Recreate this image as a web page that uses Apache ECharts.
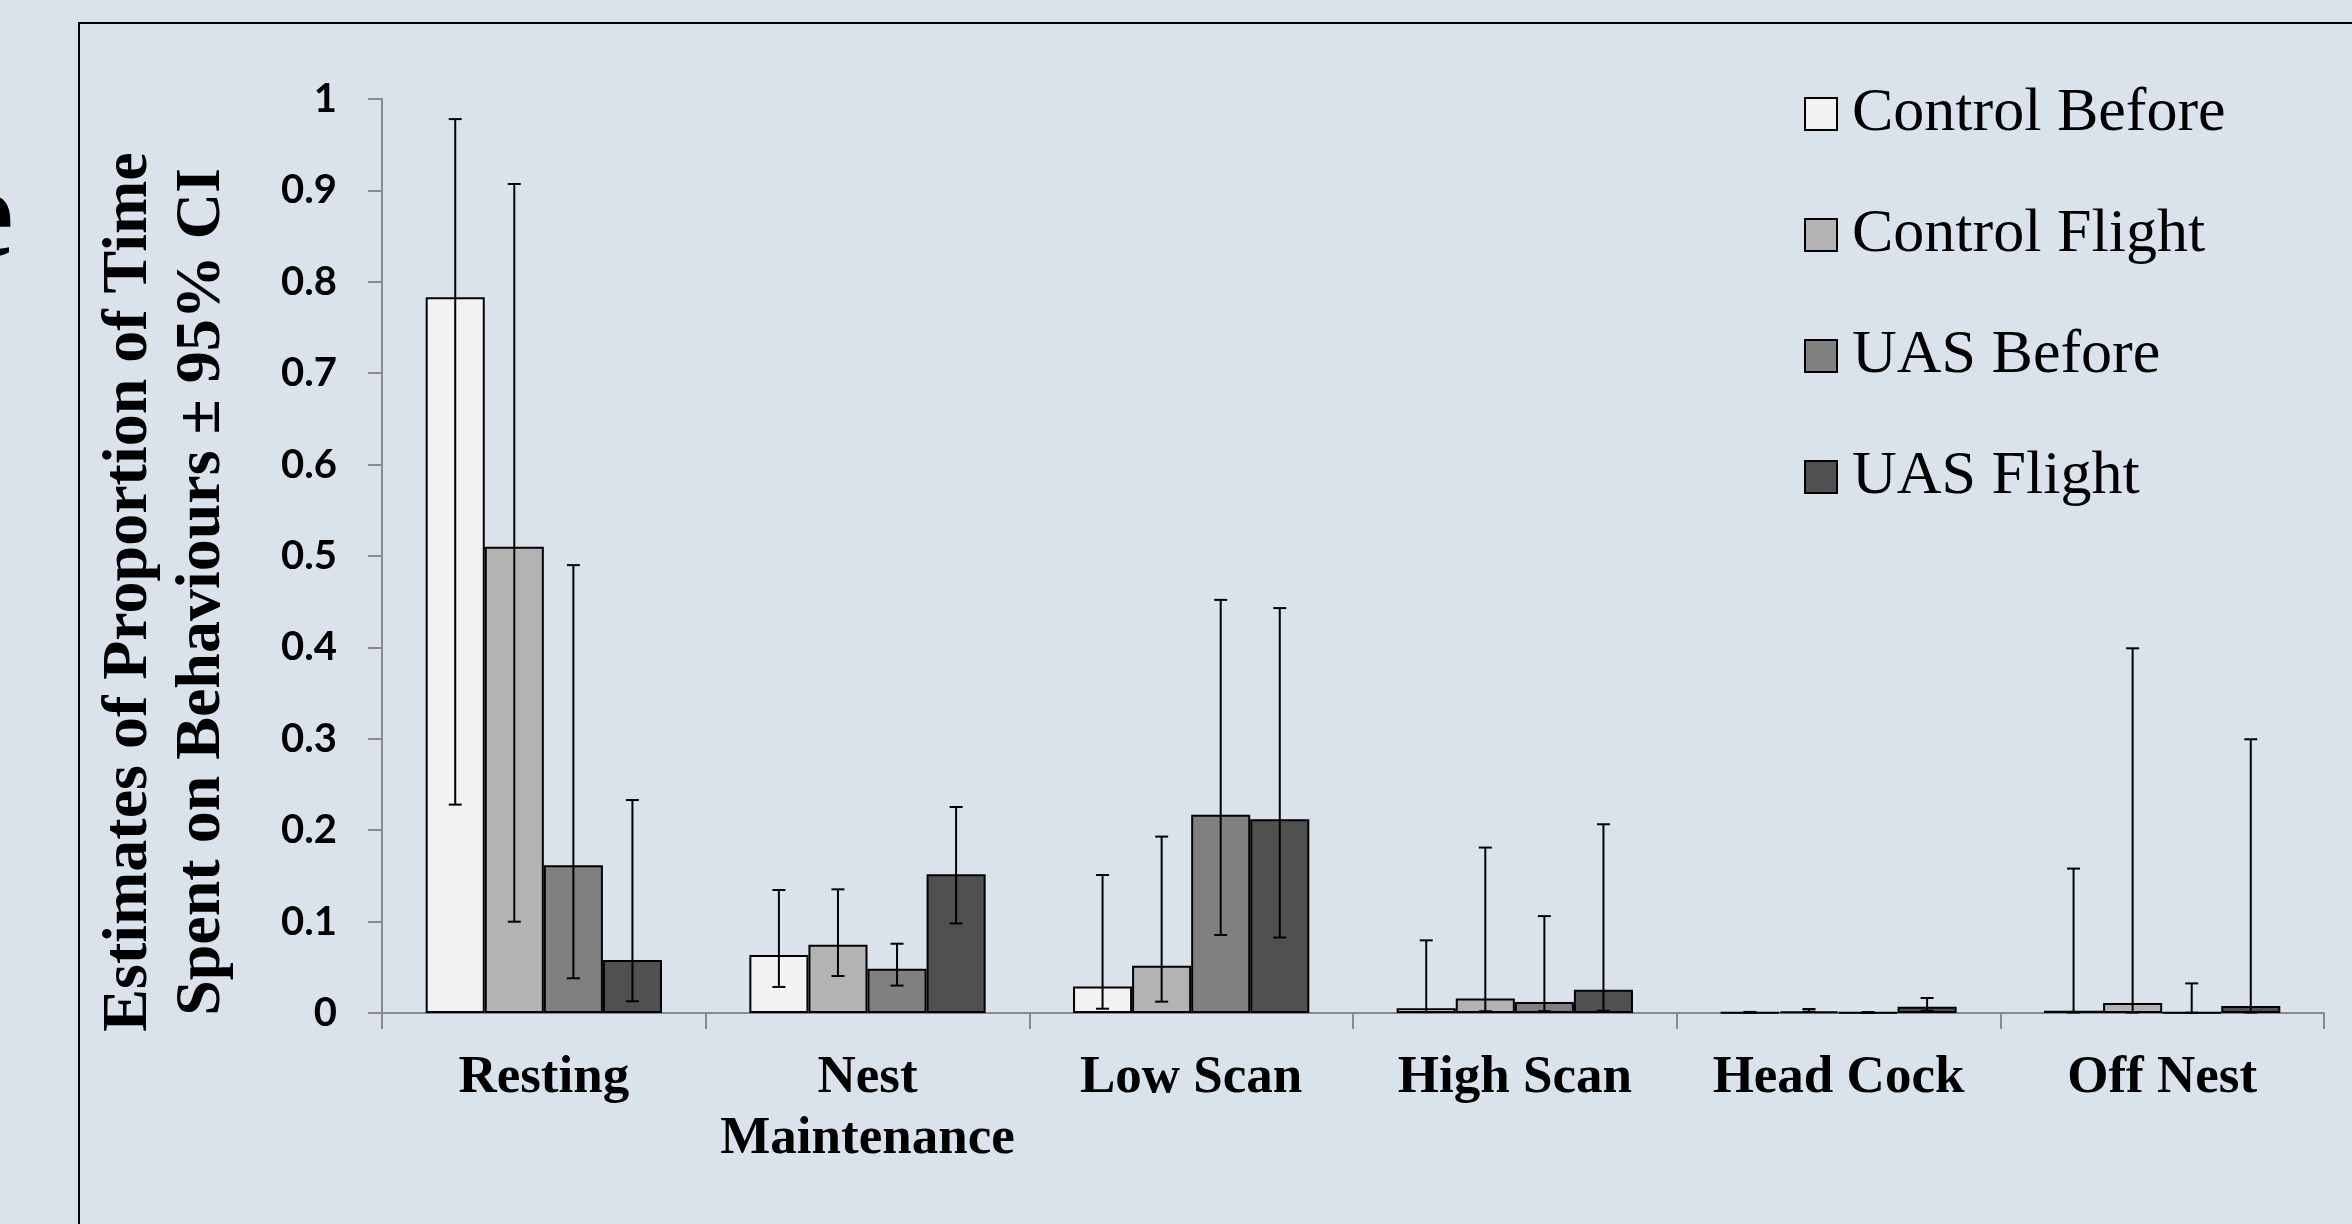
<!DOCTYPE html>
<html>
<head>
<meta charset="utf-8">
<script src="https://cdn.jsdelivr.net/npm/echarts@6/dist/echarts.min.js"></script>
<style>
html,body{margin:0;padding:0;background:#dae3ec;}
#chart{width:2352px;height:1224px;}
</style>
</head>
<body>
<div id="chart"></div>
<script>
const categories = ['Resting', 'Nest\nMaintenance', 'Low Scan', 'High Scan', 'Head Cock', 'Off Nest'];
const seriesNames = ['Control Before', 'Control Flight', 'UAS Before', 'UAS Flight'];

const controlBefore     = [0.783, 0.0635, 0.029, 0.0052, 0.0005, 0.0025];
const controlBeforeLow  = [0.228, 0.0285, 0.0047, 0.001, 0.0002, 0.0005];
const controlBeforeHigh = [0.978, 0.1346, 0.151, 0.0795, 0.0012, 0.158];

const controlFlight     = [0.510, 0.0748, 0.0516, 0.016, 0.0019, 0.011];
const controlFlightLow  = [0.0999, 0.0405, 0.0124, 0.0019, 0.0015, 0.0005];
const controlFlightHigh = [0.907, 0.1353, 0.193, 0.181, 0.0044, 0.399];

const uasBefore     = [0.1616, 0.0485, 0.217, 0.012, 0.0003, 0.0005];
const uasBeforeLow  = [0.038, 0.030, 0.0853, 0.002, 0.0001, 0.0003];
const uasBeforeHigh = [0.490, 0.0758, 0.452, 0.106, 0.001, 0.0324];

const uasFlight     = [0.058, 0.1517, 0.212, 0.0255, 0.0069, 0.0077];
const uasFlightLow  = [0.0128, 0.098, 0.0826, 0.0025, 0.0025, 0.0005];
const uasFlightHigh = [0.233, 0.2254, 0.443, 0.2065, 0.0164, 0.2995];

const yTicks = [0, 0.1, 0.2, 0.3, 0.4, 0.5, 0.6, 0.7, 0.8, 0.9, 1];

const values = [controlBefore, controlFlight, uasBefore, uasFlight];
const lows = [controlBeforeLow, controlFlightLow, uasBeforeLow, uasFlightLow];
const highs = [controlBeforeHigh, controlFlightHigh, uasBeforeHigh, uasFlightHigh];
const colors = ['#f2f2f2', '#b3b3b3', '#808080', '#505050'];
const catGap = 0.27;

const chart = echarts.init(document.getElementById('chart'));

const barSeries = seriesNames.map((n, k) => ({
  type: 'bar',
  name: n,
  data: values[k],
  barGap: '0%',
  barCategoryGap: (catGap * 100) + '%',
  itemStyle: { color: colors[k], borderColor: '#000', borderWidth: 2 },
  emphasis: { disabled: true },
  z: 2
}));

const errSeries = seriesNames.map((n, k) => ({
  type: 'custom',
  name: n + ' CI',
  silent: true,
  z: 5,
  data: categories.map((c, i) => [i, lows[k][i], highs[k][i]]),
  encode: { x: 0, y: [1, 2] },
  renderItem: function (params, api) {
    const i = api.value(0);
    const lo = api.coord([i, api.value(1)]);
    const hi = api.coord([i, api.value(2)]);
    const band = api.size([1, 0])[0];
    const bw = band * (1 - catGap) / 4;
    const x = lo[0] + (k - 1.5) * bw;
    const cap = 6.5;
    const st = { stroke: '#000', lineWidth: 2 };
    return {
      type: 'group',
      children: [
        { type: 'line', shape: { x1: x, y1: lo[1], x2: x, y2: hi[1] }, style: st },
        { type: 'line', shape: { x1: x - cap, y1: hi[1], x2: x + cap, y2: hi[1] }, style: st },
        { type: 'line', shape: { x1: x - cap, y1: lo[1], x2: x + cap, y2: lo[1] }, style: st }
      ]
    };
  }
}));

chart.setOption({
  backgroundColor: '#dae3ec',
  animation: false,
  grid: { left: 382, right: 28, top: 99, bottom: 211 },
  legend: {
    data: seriesNames,
    orient: 'vertical',
    left: 1799,
    top: 78,
    itemWidth: 32,
    itemHeight: 32,
    itemGap: 59,
    icon: 'rect',
    itemStyle: { borderColor: '#000', borderWidth: 2 },
    textStyle: {
      fontFamily: 'Liberation Serif',
      fontSize: 62,
      lineHeight: 62,
      color: '#000',
      padding: [0, 0, 0, 10]
    },
    selectedMode: false
  },
  xAxis: {
    type: 'category',
    data: categories,
    axisLine: { lineStyle: { color: '#8a8a8a', width: 2 } },
    axisTick: { show: true, length: 16, lineStyle: { color: '#8a8a8a', width: 2 } },
    axisLabel: {
      interval: 0,
      margin: 35,
      color: '#000',
      fontFamily: 'Liberation Serif',
      fontWeight: 'bold',
      fontSize: 53,
      lineHeight: 61
    }
  },
  yAxis: {
    type: 'value',
    min: yTicks[0],
    max: yTicks[yTicks.length - 1],
    interval: 0.1,
    splitLine: { show: false },
    axisLine: { show: true, lineStyle: { color: '#8a8a8a', width: 2 } },
    axisTick: { show: true, length: 14, lineStyle: { color: '#8a8a8a', width: 2 } },
    axisLabel: {
      margin: 45,
      color: '#000',
      fontFamily: 'Lato',
      fontWeight: 'bold',
      fontSize: 40,
      formatter: function (v) { return String(Math.round(v * 10) / 10); }
    }
  },
  graphic: [
    {
      type: 'rect',
      z: -1,
      shape: { x: 79, y: 23, width: 2400, height: 1400 },
      style: { fill: 'none', stroke: '#000', lineWidth: 2 },
      silent: true
    },
    {
      type: 'text',
      x: -44,
      y: 222,
      style: {
        text: 'e',
        fontFamily: 'Liberation Serif',
        fontWeight: 'bold',
        fontSize: 130,
        fill: '#000',
        verticalAlign: 'middle',
        align: 'left'
      },
      silent: true
    },
    {
      type: 'text',
      x: 166,
      y: 592,
      rotation: Math.PI / 2,
      style: {
        text: 'Estimates of Proportion of Time\nSpent on Behaviours \u00b1 95% CI',
        fontFamily: 'Liberation Serif',
        fontWeight: 'bold',
        fontSize: 64,
        lineHeight: 73,
        fill: '#000',
        align: 'center',
        verticalAlign: 'middle'
      },
      silent: true
    }
  ],
  series: barSeries.concat(errSeries)
});
</script>
</body>
</html>
